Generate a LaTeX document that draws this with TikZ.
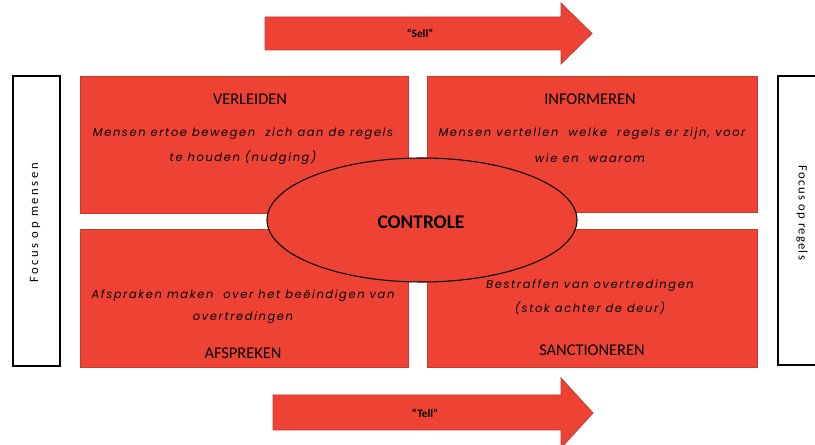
\documentclass[tikz,border=0pt]{standalone}
\usepackage{fontspec}
\setmainfont{Carlito}
\newfontfamily\gothic{Poppins}[LetterSpace=14]
\newfontfamily\sidefont{Carlito}[LetterSpace=20]
\newfontfamily\sidefontr{Carlito}[LetterSpace=10]
\usetikzlibrary{shapes.geometric}
\definecolor{redfill}{RGB}{238,67,52}
\definecolor{redline}{RGB}{196,58,48}
\tikzset{
  redbox/.style={draw=redline, line width=0.6pt, fill=redfill},
  sidebox/.style={draw=black, line width=0.9pt, fill=white},
  head/.style={font=\fontsize{12.3}{14}\selectfont, inner sep=0pt},
  body/.style={font=\gothic\itshape\fontsize{8.6}{10}\selectfont, inner sep=0pt},
  side/.style={font=\sidefont\fontsize{9.5}{11}\selectfont, inner sep=0pt},
  sider/.style={font=\sidefontr\fontsize{9.5}{11}\selectfont, inner sep=0pt},
  arrowtxt/.style={font=\bfseries\fontsize{8.5}{10}\selectfont, inner sep=0pt}
}
\begin{document}
\begin{tikzpicture}[x=0.75pt,y=-0.75pt]
\useasboundingbox (0,0) rectangle (815,445);
% arrows
\draw[redbox] (265,17) -- (561,17) -- (561,3) -- (592,33.5) -- (561,64) -- (561,50) -- (265,50) -- cycle;
\node[arrowtxt] (sell) at (420,33.5) {“Sell”};
\draw[redbox] (273,395) -- (561,395) -- (561,378) -- (593,413) -- (561,448) -- (561,430) -- (273,430) -- cycle;
\node[arrowtxt] (tell) at (425,413) {“Tell”};
% side boxes
\draw[sidebox] (13,76) rectangle (60,366);
\node[side, rotate=90] (fm) at (35,223) {Focus op mensen};
\draw[sidebox] (778,76) rectangle (825,365);
\node[sider, rotate=-90] (fr) at (802,213) {Focus op regels};
% red boxes
\draw[redbox] (80,76) rectangle (408,213);
\draw[redbox] (427,76) rectangle (757,212);
\draw[redbox] (80,229) rectangle (408,367);
\draw[redbox] (427,229) rectangle (757,367);
% texts top-left
\node[head] (verl) at (250,99) {VERLEIDEN};
\node[body] (v1) at (243,134) {Mensen ertoe bewegen\ \ zich aan de regels};
\node[body] (v2) at (243,158) {te houden (nudging)};
% top-right
\node[head] (inf) at (590,99) {INFORMEREN};
\node[body] (i1) at (592,134) {Mensen vertellen\ \ welke\ \ regels er zijn, voor};
\node[body] (i2) at (590,158) {wie en\ \ waarom};
% bottom-left
\node[body] (a1) at (243,296) {Afspraken maken\ \ over het beëindigen van};
\node[body] (a2) at (243,318) {overtredingen};
\node[head] (afs) at (243,353) {AFSPREKEN};
% bottom-right
\node[body] (b1) at (590,286) {Bestraffen van overtredingen};
\node[body] (b2) at (590,308) {(stok achter de deur)};
\node[head] (sanc) at (592,350) {SANCTIONEREN};
% ellipse
\node[ellipse, draw=black, line width=0.8pt, fill=redfill, minimum width=310*0.75pt, minimum height=124*0.75pt, inner sep=0pt] (ctrl) at (422,220) {};
\node[font=\bfseries\fontsize{14.5}{16}\selectfont, inner sep=0pt] (ctrltxt) at (421,222) {CONTROLE};
\end{tikzpicture}
\end{document}
